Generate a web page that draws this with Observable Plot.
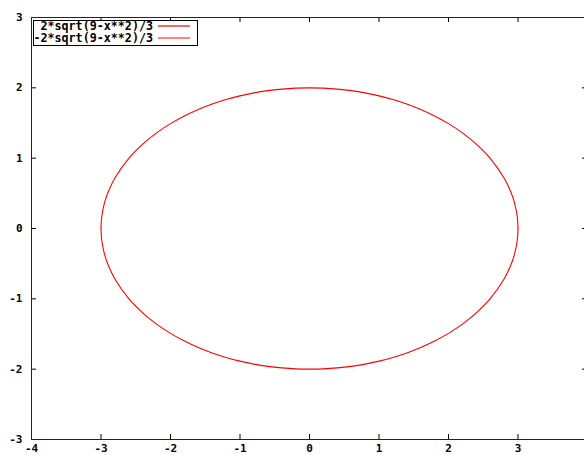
<!DOCTYPE html>
<html>
<head>
<meta charset="utf-8">
<script src="https://cdn.jsdelivr.net/npm/d3@7"></script>
<script src="https://cdn.jsdelivr.net/npm/@observablehq/plot@0.6"></script>
<style>
  html, body { margin: 0; padding: 0; background: white; overflow: hidden; }
  #chart svg { display: block; }
</style>
</head>
<body>
<div id="chart"></div>
<script>
const xs = [-3, -2.99, -2.95, -2.9, -2.8, -2.6, -2.4, -2.2, -2.0, -1.8, -1.6, -1.4, -1.2, -1.0, -0.8, -0.6, -0.4, -0.2, 0,
            0.2, 0.4, 0.6, 0.8, 1.0, 1.2, 1.4, 1.6, 1.8, 2.0, 2.2, 2.4, 2.6, 2.8, 2.9, 2.95, 2.99, 3];
const upper = [0, 0.163, 0.364, 0.512, 0.718, 0.998, 1.2, 1.36, 1.491, 1.6, 1.692, 1.769, 1.833, 1.886, 1.928, 1.96, 1.982, 1.996, 2,
               1.996, 1.982, 1.96, 1.928, 1.886, 1.833, 1.769, 1.692, 1.6, 1.491, 1.36, 1.2, 0.998, 0.718, 0.512, 0.364, 0.163, 0];
const lower = [0, -0.163, -0.364, -0.512, -0.718, -0.998, -1.2, -1.36, -1.491, -1.6, -1.692, -1.769, -1.833, -1.886, -1.928, -1.96, -1.982, -1.996, -2,
               -1.996, -1.982, -1.96, -1.928, -1.886, -1.833, -1.769, -1.692, -1.6, -1.491, -1.36, -1.2, -0.998, -0.718, -0.512, -0.364, -0.163, 0];
const xTicks = [-4, -3, -2, -1, 0, 1, 2, 3, 4];
const yTicks = [-3, -2, -1, 0, 1, 2, 3];
const legendLabels = ["2*sqrt(9-x**2)/3", "-2*sqrt(9-x**2)/3"];
const seriesColors = ["#ff0000", "#ff0000"];
const legendSampleColors = ["#ff0000", "#ff3030"];

const upperData = xs.map((x, i) => ({x, y: upper[i]}));
const lowerData = xs.map((x, i) => ({x, y: lower[i]}));

const W = 584, H = 455, mL = 31, mR = -3, mT = 17, mB = 16;
const fw = W - mL - mR, fh = H - mT - mB;
const tl = 5;

const plot = Plot.plot({
  width: W, height: H,
  marginLeft: mL, marginRight: mR, marginTop: mT, marginBottom: mB,
  x: {domain: [-4, 4]},
  y: {domain: [-3, 3]},
  style: {fontFamily: "DejaVu Sans Mono", fontSize: "11px", fontWeight: "bold", color: "black", background: "white"},
  marks: [
    Plot.line(upperData, {x: "x", y: "y", stroke: seriesColors[0], strokeWidth: 1.1, curve: "catmull-rom"}),
    Plot.line(lowerData, {x: "x", y: "y", stroke: seriesColors[1], strokeWidth: 1.1, curve: "catmull-rom"}),
    Plot.tickX(xTicks, {x: d => d, insetTop: fh - tl, stroke: "black"}),
    Plot.tickX(xTicks, {x: d => d, insetBottom: fh - tl, stroke: "black"}),
    Plot.tickY(yTicks, {y: d => d, insetRight: fw - tl, stroke: "black"}),
    Plot.tickY(yTicks, {y: d => d, insetLeft: fw - tl, stroke: "black"}),
    Plot.frame({stroke: "#222", strokeWidth: 1}),
    Plot.axisX({ticks: xTicks, tickSize: 0, tickPadding: 5, tickFormat: d => String(d), label: null}),
    Plot.axisY({ticks: yTicks, tickSize: 0, tickPadding: 9, tickFormat: d => String(d), label: null})
  ]
});
document.getElementById("chart").appendChild(plot);

// Legend (key box)
const svg = d3.select(plot);
const g = svg.append("g").attr("font-family", "DejaVu Sans Mono").attr("font-size", "11.7px").attr("font-weight", "bold");
g.append("rect").attr("x", 33.5).attr("y", 20.5).attr("width", 164).attr("height", 25)
  .attr("fill", "white").attr("stroke", "black");
const rowY = [26, 38.5];
legendLabels.forEach((lab, i) => {
  g.append("text").attr("x", 153).attr("y", rowY[i]).attr("text-anchor", "end")
    .attr("dominant-baseline", "middle").attr("fill", "black").text(lab);
  g.append("line").attr("x1", 158).attr("x2", 190).attr("y1", Math.floor(rowY[i])).attr("y2", Math.floor(rowY[i]))
    .attr("style", "stroke:" + legendSampleColors[i] + ";stroke-width:1.2px");
});
</script>
</body>
</html>
